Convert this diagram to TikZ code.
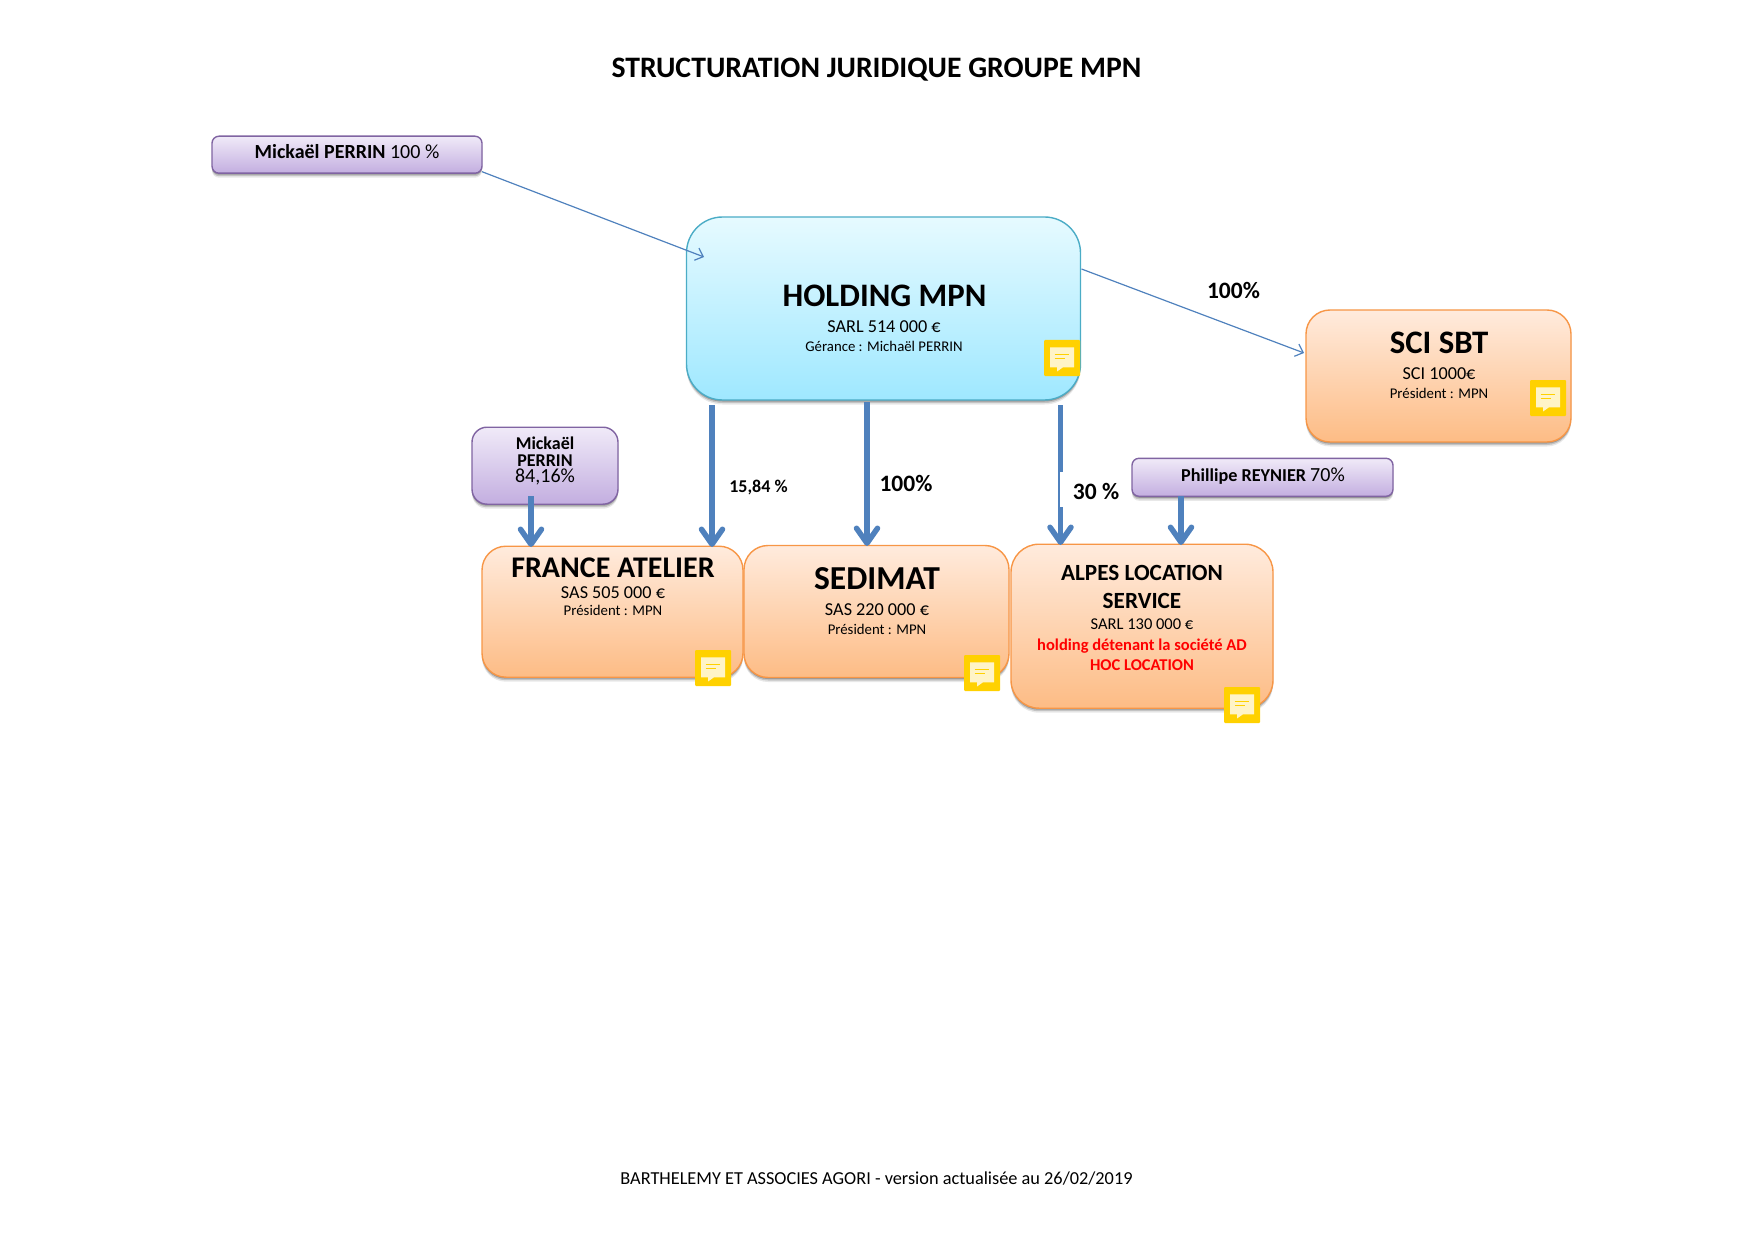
\documentclass[tikz,border=0pt]{standalone}
\usepackage{fontspec}
\setmainfont{Carlito}
\usetikzlibrary{arrows.meta,shadows}
\definecolor{blueT}{HTML}{E6FAFF}\definecolor{blueB}{HTML}{9FE8FF}\definecolor{blueL}{HTML}{4BACC6}
\definecolor{orT}{HTML}{FFEBDD}\definecolor{orB}{HTML}{FDBC85}\definecolor{orL}{HTML}{F79646}
\definecolor{puT}{HTML}{F0EAF8}\definecolor{puB}{HTML}{C3AEE0}\definecolor{puL}{HTML}{8064A2}
\definecolor{arrowBlue}{HTML}{4F81BD}\definecolor{gold}{HTML}{FFD100}
\newcommand\capt[1]{\smash{#1}\vphantom{H}}
\tikzset{
  softshadow/.style={general shadow={shadow yshift=-1.5pt,fill=black,opacity=.22},
                     general shadow={shadow yshift=-3pt,fill=black,opacity=.16},
                     general shadow={shadow yshift=-4.5pt,fill=black,opacity=.09}},
  box/.style={draw,line width=1.4pt,inner sep=0pt,outer sep=0pt,shading=axis,shading angle=0,softshadow},
  bluebox/.style={box,draw=blueL,top color=blueT,bottom color=blueB,rounded corners=36pt},
  orbox/.style={box,draw=orL,top color=orT,bottom color=orB,rounded corners=24pt},
  pubox/.style={box,draw=puL,top color=puT,bottom color=puB,rounded corners=7pt},
  lab/.style={inner sep=0pt,outer sep=0pt,align=center},
  big/.style={lab,font=\fontsize{32.8}{32.8}\selectfont\bfseries},
  mid/.style={lab,font=\fontsize{18.2}{18.2}\selectfont},
  small/.style={lab,font=\fontsize{14.8}{14.8}\selectfont},
  pct/.style={lab,font=\fontsize{23.5}{23.5}\selectfont\bfseries},
  purp/.style={lab,font=\fontsize{20}{20}\selectfont},
  thickarrow/.style={draw=arrowBlue,line width=5.5pt,-{Straight Barb[length=15pt,width=21pt,line width=5.5pt,round]},shorten >=0pt},
  thinarrow/.style={draw=arrowBlue,line width=1.2pt,-{Straight Barb[length=7pt,width=13pt,line width=1.2pt]}},
  commenticon/.pic={
    \fill[gold,rounded corners=1pt] (0,0) rectangle (36,36);
    \fill[white,opacity=.78] (6,7.3) -- (30,7.3) -- (30,27.3) -- (19,27.3) -- (13,31.5) -- (13,27.3) -- (6,27.3) -- cycle;
    \draw[gold,line width=1pt] (10.7,14.5) -- (25.3,14.5) (10.7,18.5) -- (20.5,18.5);
  }
}
\begin{document}
\begin{tikzpicture}[x=1pt,y=-1pt]
\useasboundingbox (0,0) rectangle (1754,1241);
% boxes
\node[pubox,minimum width=270pt,minimum height=37pt] (mick1) at (347,154.7) {};
\node[bluebox,minimum width=394pt,minimum height=183pt] (holding) at (883.5,308.5) {};
\node[orbox,minimum width=265pt,minimum height=132pt] (sci) at (1438.5,376) {};
\node[pubox,rounded corners=15pt,minimum width=146pt,minimum height=77pt] (mick2) at (545,465.7) {};
\node[orbox,minimum width=261pt,minimum height=131pt] (france) at (612.5,611.7) {};
\node[orbox,minimum width=265pt,minimum height=132pt] (sedimat) at (876.5,611.5) {};
\node[orbox,rounded corners=28pt,minimum width=262pt,minimum height=164pt] (alpes) at (1142,626.2) {};
\node[pubox,minimum width=261pt,minimum height=38pt] (phil) at (1262.5,477.3) {};
% arrow end points
\coordinate (t1) at (704,257);
\coordinate (t2) at (1304,353);
\coordinate (a1) at (531,547);
\coordinate (a2) at (712,547);
\coordinate (a3) at (867,546);
\coordinate (a4) at (1060.5,545);
\coordinate (a5) at (1181,545);
% connectors
\draw[thinarrow] ([yshift=1.5pt]mick1.south east) -- (t1);
\draw[thinarrow] ([xshift=1pt,yshift=39.5pt]holding.east) -- (t2);
\draw[thickarrow] ([yshift=8pt]mick2.south -| a1) -- (a1);
\draw[thickarrow] ([yshift=-5pt]holding.south -| a2) -- (a2);
\draw[thickarrow] ([yshift=-2pt]holding.south -| a3) -- (a3);
\draw[thickarrow] ([yshift=-5pt]holding.south -| a4) -- (a4);
\draw[thickarrow] (phil.south -| a5) -- (a5);
% title and footer
\node[lab,font=\fontsize{29.7}{29.7}\selectfont\bfseries] (title) at (876.5,68) {\capt{STRUCTURATION JURIDIQUE GROUPE MPN}};
\node[lab,font=\fontsize{18.3}{18.3}\selectfont] (footer) at (876.5,1179) {\capt{BARTHELEMY ET ASSOCIES AGORI - version actualisée au 26/02/2019}};
% purple labels
\node[purp] (mick1t) at (347,152) {\capt{\textbf{Mickaël PERRIN} 100 \%}};
\node[purp] (philt) at (1263,475) {\capt{\fontsize{18.2}{18.2}\selectfont\textbf{Phillipe REYNIER} \fontsize{20}{20}\selectfont 70\%}};
\node[purp,font=\fontsize{18}{18}\selectfont\bfseries] (mick2a) at (545,444) {\capt{Mickaël}};
\node[purp,font=\fontsize{18}{18}\selectfont\bfseries] (mick2b) at (545,461) {\capt{PERRIN}};
\node[purp,font=\fontsize{20}{20}\selectfont] (mick2c) at (545,476) {\capt{84,16\%}};
% holding
\node[big] (h1) at (884.5,296) {\capt{HOLDING MPN}};
\node[mid] (h2) at (884,327) {\capt{SARL 514 000 €}};
\node[small] (h3) at (884,347) {\capt{Gérance : Michaël PERRIN}};
% sci
\node[big] (s1) at (1439,343) {\capt{SCI SBT}};
\node[mid] (s2) at (1439,374) {\capt{SCI 1000€}};
\node[small] (s3) at (1439,394) {\capt{Président : MPN}};
% france
\node[big,font=\fontsize{30}{30}\selectfont\bfseries] (f1) at (613,568) {\capt{FRANCE ATELIER}};
\node[mid] (f2) at (613,593) {\capt{SAS 505 000 €}};
\node[small] (f3) at (613,611) {\capt{Président : MPN}};
% sedimat
\node[big,font=\fontsize{33.5}{33.5}\selectfont\bfseries] (d1) at (877,579) {\capt{SEDIMAT}};
\node[mid] (d2) at (877,610) {\capt{SAS 220 000 €}};
\node[small] (d3) at (877,630) {\capt{Président : MPN}};
% alpes
\node[pct,font=\fontsize{23.2}{23.2}\selectfont\bfseries] (l1) at (1142,573) {\capt{ALPES LOCATION}};
\node[pct,font=\fontsize{23.2}{23.2}\selectfont\bfseries] (l2) at (1142,601) {\capt{SERVICE}};
\node[mid,font=\fontsize{16.5}{16.5}\selectfont] (l3) at (1142,624) {\capt{SARL 130 000 €}};
\node[lab,text=red,font=\fontsize{16.5}{16.5}\selectfont\bfseries] (l4) at (1142,645.5) {\capt{holding détenant la société AD}};
\node[lab,text=red,font=\fontsize{16.5}{16.5}\selectfont\bfseries] (l5) at (1142,665) {\capt{HOC LOCATION}};
% percentages
\node[pct] (p1) at (1233.5,291) {\capt{100\%}};
\node[lab,font=\fontsize{18}{18}\selectfont\bfseries] (p2) at (758.5,487) {\capt{15,84 \%}};
\node[pct] (p3) at (906,484) {\capt{100\%}};
\node[lab,fill=white,minimum width=70pt,minimum height=35pt] (p4bg) at (1095,489.5) {};
\node[pct] (p4) at (1096,492) {\capt{30 \%}};
% comment icons
\pic at (1044,340) {commenticon};
\pic at (1530,380) {commenticon};
\pic at (695,650) {commenticon};
\pic at (964,655) {commenticon};
\pic at (1224,687) {commenticon};
\end{tikzpicture}
\end{document}
